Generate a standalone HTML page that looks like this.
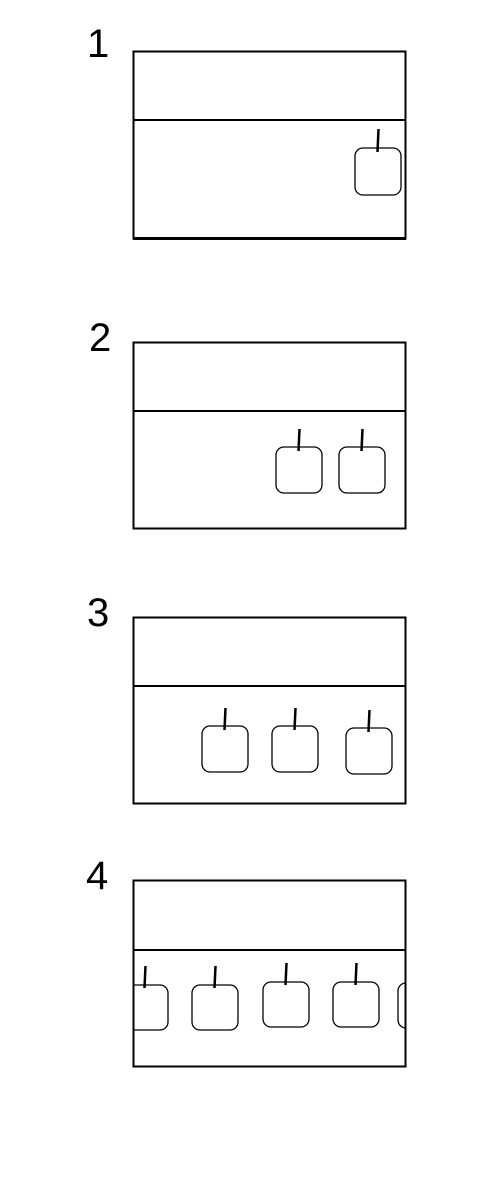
<!DOCTYPE html>
<html><head><meta charset="utf-8"><style>
html,body{margin:0;padding:0;background:#fff;width:486px;height:1200px;overflow:hidden}
text{font-family:"Liberation Sans",sans-serif;font-size:40px;fill:#000}
</style></head><body>
<svg width="486" height="1200">
<defs><clipPath id="c4"><rect x="133" y="880" width="273" height="187"/></clipPath></defs>
<g fill="none" stroke="#000">
<text x="87" y="57" text-anchor="start" stroke="none">1</text>
<rect x="133.5" y="51.5" width="272" height="187" stroke-width="2"/>
<line x1="133" y1="238.5" x2="406" y2="238.5" stroke-width="3"/>
<line x1="133" y1="120" x2="406" y2="120" stroke-width="2"/>
<rect x="355" y="148" width="46" height="47" rx="8" stroke-width="1.3"/>
<line x1="378.5" y1="129" x2="377.5" y2="152" stroke-width="2.5"/>
</g>
<g fill="none" stroke="#000">
<text x="89" y="351" stroke="none">2</text>
<rect x="133.5" y="342.5" width="272" height="186" stroke-width="2"/>
<line x1="133" y1="411" x2="406" y2="411" stroke-width="2"/>
<rect x="276" y="447" width="46" height="46" rx="8" stroke-width="1.3"/>
<rect x="339" y="447" width="46" height="46" rx="8" stroke-width="1.3"/>
<line x1="299.5" y1="429" x2="298.5" y2="451" stroke-width="2.5"/>
<line x1="362.5" y1="429" x2="361.5" y2="451" stroke-width="2.5"/>
</g>
<g fill="none" stroke="#000">
<text x="87" y="626" stroke="none">3</text>
<rect x="133.5" y="617.5" width="272" height="186" stroke-width="2"/>
<line x1="133" y1="686" x2="406" y2="686" stroke-width="2"/>
<rect x="202" y="726" width="46" height="46" rx="8" stroke-width="1.3"/>
<rect x="272" y="726" width="46" height="46" rx="8" stroke-width="1.3"/>
<rect x="346" y="728" width="46" height="46" rx="8" stroke-width="1.3"/>
<line x1="225.5" y1="708" x2="224.5" y2="730" stroke-width="2.5"/>
<line x1="295.5" y1="708" x2="294.5" y2="730" stroke-width="2.5"/>
<line x1="369.5" y1="710" x2="368.5" y2="732" stroke-width="2.5"/>
</g>
<g fill="none" stroke="#000">
<text x="86" y="889" stroke="none">4</text>
<g clip-path="url(#c4)">
<rect x="122" y="985" width="46" height="45" rx="8" stroke-width="1.3"/>
<rect x="192" y="985" width="46" height="45" rx="8" stroke-width="1.3"/>
<rect x="263" y="982" width="46" height="45" rx="8" stroke-width="1.3"/>
<rect x="333" y="982" width="46" height="45" rx="8" stroke-width="1.3"/>
<rect x="398" y="983" width="46" height="45" rx="8" stroke-width="1.3"/>
</g>
<line x1="145.5" y1="966" x2="144.5" y2="988" stroke-width="2.5"/>
<line x1="215.5" y1="966" x2="214.5" y2="988" stroke-width="2.5"/>
<line x1="286.5" y1="963" x2="285.5" y2="985" stroke-width="2.5"/>
<line x1="356.5" y1="963" x2="355.5" y2="985" stroke-width="2.5"/>
<rect x="133.5" y="880.5" width="272" height="186" stroke-width="2"/>
<line x1="133" y1="950" x2="406" y2="950" stroke-width="2"/>
</g>
</svg>
</body></html>
